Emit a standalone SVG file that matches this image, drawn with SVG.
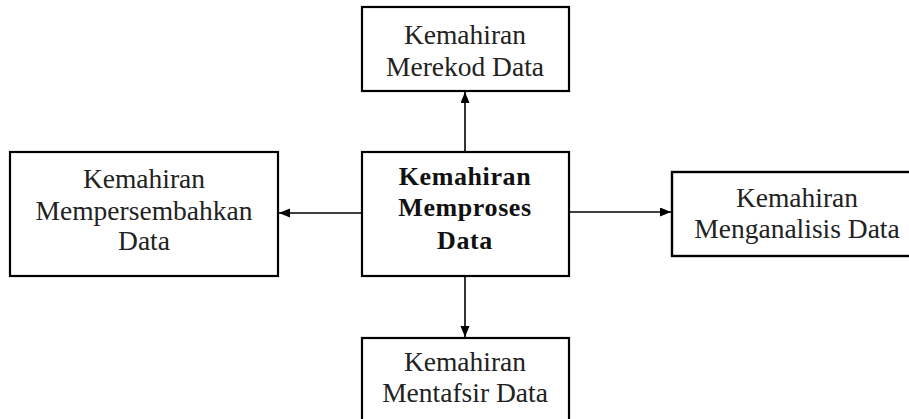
<svg xmlns="http://www.w3.org/2000/svg" width="909" height="419" viewBox="0 0 909 419">
<style>
.box{fill:#fff;stroke:#000;stroke-width:2.2}
.t{font-family:"Liberation Serif","Times New Roman",serif;font-size:27.5px;fill:#222;text-anchor:middle}
.b{font-family:"Liberation Serif","Times New Roman",serif;font-size:26px;font-weight:bold;letter-spacing:0.6px;fill:#111;text-anchor:middle}
.c{stroke:#000;stroke-width:1.6;fill:none;marker-end:url(#ah)}
</style>
<defs>
<marker id="ah" markerUnits="userSpaceOnUse" markerWidth="12" markerHeight="10" refX="11" refY="4.5" orient="auto">
<path d="M0,0 L11,4.5 L0,9 z" fill="#000"/>
</marker>
</defs>
<rect width="909" height="419" fill="#fff"/>
<g id="connectors">
<line class="c" x1="465" y1="152" x2="465" y2="92"/>
<line class="c" x1="362" y1="213" x2="279" y2="213"/>
<line class="c" x1="569" y1="212" x2="671" y2="212"/>
<line class="c" x1="465" y1="276" x2="465" y2="337"/>
</g>
<g id="merekod">
<rect class="box" x="362" y="7" width="207" height="84"/>
<text class="t" x="465" y="44">Kemahiran</text>
<text class="t" x="465" y="76">Merekod Data</text>
</g>
<g id="mempersembahkan">
<rect class="box" x="10" y="152" width="268" height="124"/>
<text class="t" x="144" y="188">Kemahiran</text>
<text class="t" x="144" y="220">Mempersembahkan</text>
<text class="t" x="144" y="250">Data</text>
</g>
<g id="memproses">
<rect class="box" x="362" y="152" width="207" height="124"/>
<text class="b" x="465" y="185">Kemahiran</text>
<text class="b" x="465" y="216">Memproses</text>
<text class="b" x="465" y="249">Data</text>
</g>
<g id="menganalisis">
<rect class="box" x="672" y="172" width="260" height="84" style="stroke-width:2.4"/>
<text class="t" x="797" y="207">Kemahiran</text>
<text class="t" x="797" y="238">Menganalisis Data</text>
</g>
<g id="mentafsir">
<rect class="box" x="362" y="338" width="207" height="100"/>
<text class="t" x="465" y="371">Kemahiran</text>
<text class="t" x="465" y="402">Mentafsir Data</text>
</g>
</svg>
